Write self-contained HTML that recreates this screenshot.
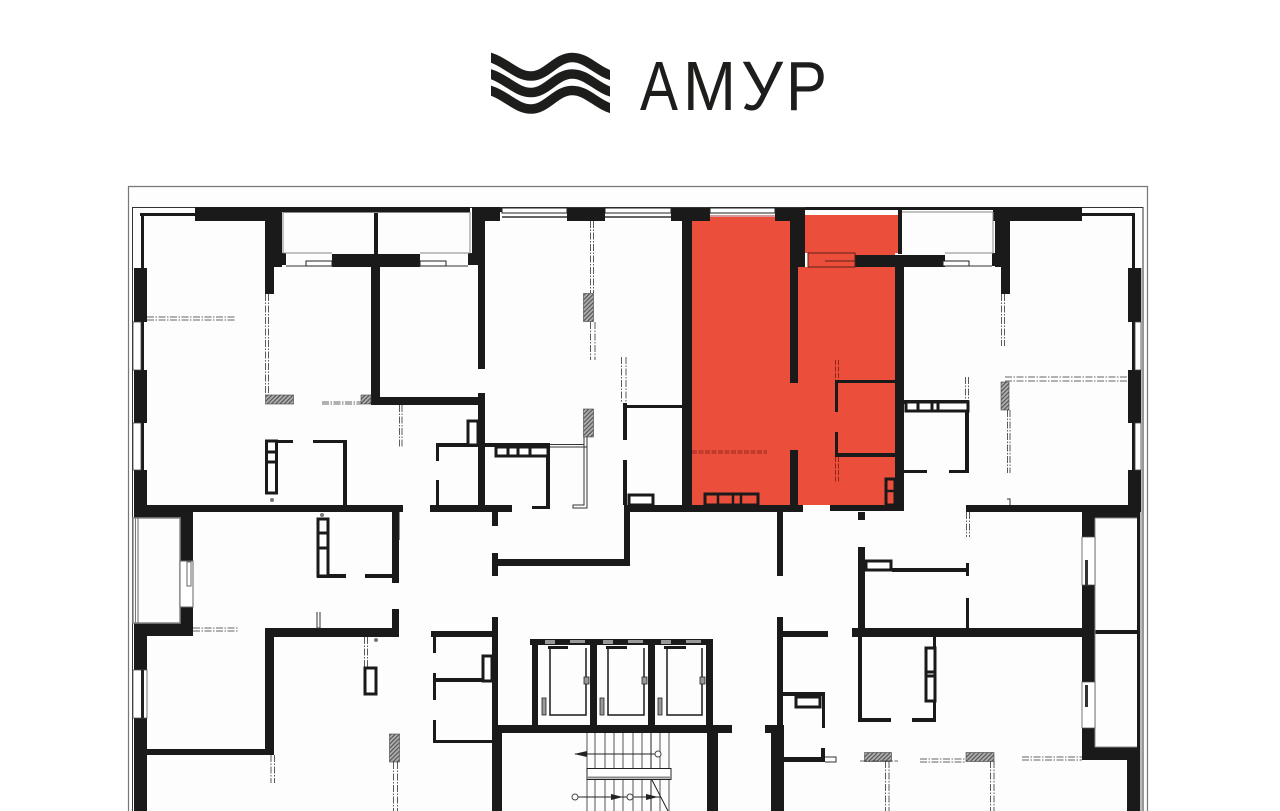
<!DOCTYPE html>
<html>
<head>
<meta charset="utf-8">
<style>
html,body{margin:0;padding:0;background:#fff;width:1280px;height:811px;overflow:hidden}
svg{display:block}
.d{fill:none;stroke:#333;stroke-width:.8;stroke-dasharray:7 1.5 1.5 1.5}
.t{fill:none;stroke:#222;stroke-width:1}
.g{fill:none;stroke:#888;stroke-width:1}
.s{fill:none;stroke:#333;stroke-width:1}
.l{font-family:"Liberation Sans",sans-serif;font-size:70px;fill:#1d1d1b}
</style>
</head>
<body>
<svg width="1280" height="811" viewBox="0 0 1280 811" xmlns="http://www.w3.org/2000/svg">
<defs>
<pattern id="h" width="3" height="3" patternUnits="userSpaceOnUse" patternTransform="rotate(-45)">
<rect width="3" height="3" fill="#b0b0b0"/><rect width="3" height="1.2" fill="#555"/>
</pattern>
<clipPath id="lc"><rect x="491" y="45" width="119" height="75"/></clipPath>
</defs>
<rect width="1280" height="811" fill="#fff"/>

<!-- logo -->
<g fill="none" stroke="#1d1d1b" stroke-width="9.500" clip-path="url(#lc)">
<path d="M485 56C505 60 515 76 531 76C547 76 556 57.500 572 57.500C588 57.500 596 72 616 77"/>
<path d="M485 72.500C505 76.500 515 92.500 531 92.500C547 92.500 556 74 572 74C588 74 596 88.500 616 93.500"/>
<path d="M485 89C505 93 515 109 531 109C547 109 556 90.500 572 90.500C588 90.500 596 105 616 110"/>
</g>
<text class="l" x="640" y="110" textLength="38" lengthAdjust="spacingAndGlyphs">А</text>
<text class="l" x="683" y="110" textLength="53" lengthAdjust="spacingAndGlyphs">М</text>
<text class="l" x="741" y="110" textLength="42" lengthAdjust="spacingAndGlyphs">У</text>
<text class="l" x="786" y="110" textLength="41" lengthAdjust="spacingAndGlyphs">Р</text>

<!-- frame -->
<path d="M128.500 811V186.500H1147.500V811" fill="#fdfdfd" stroke="#777" stroke-width="1.200"/>
<path d="M132.500 811V207.500H1143V811" fill="none" stroke="#333" stroke-width="1"/>
<path d="M135.500 811V268M1141 811V268" fill="none" stroke="#555" stroke-width=".8"/>

<!-- red apartment -->
<path d="M692 221H790V383H798V267H808V253H805V215H898V253H895V505H692Z" fill="#ec4e3c"/>
<path d="M790 383H798V267H895V505H692V383Z" fill="#ec4e3c"/>
<rect x="710" y="217" width="65" height="4" fill="#ec4e3c"/>

<!-- walls -->
<path fill="#1a1a1a" d="
M195 207H282V221H195ZM265 221H282V267H265ZM265 267H274V294H265ZM282 253H286V265H282Z
M134 268H147V322H134ZM134 370H147V423H134ZM134 470H147V512H134Z
M141 216H144V268H141ZM141 322H144V370H141ZM141 423H144V470H141ZM140 213H195V216H140Z
M282 207H470V212H282ZM374 207H378V254H374ZM332 254H420V267H332Z
M371 267H380V405H371ZM371 397H485V405H371Z
M472 207H500V221H472ZM472 221H485V265H472ZM478 265H485V369H478ZM478 393H485V512H478ZM468 253H472V265H468Z
M147 505H403V512H147ZM313 440H347V443H313ZM265 440H293V443H265ZM343 440H347V505H343Z
M436 443H478V447H436ZM436 443H439V461H436ZM436 480H439V505H436ZM430 505H512V512H430Z
M492 509H498V526H492ZM492 553H498V576H492ZM498 559H630V566H498ZM624 505H630V566H624Z
M492 617H498V811H492ZM431 631H492V637H431ZM433 637H436V653H433ZM433 673H436V700H433ZM435 678H482V682H435ZM433 720H436V743H433ZM435 740H492V743H435Z
M134 511H193V518H134ZM180 518H193V561H180ZM180 607H193V636H180ZM134 623H193V636H134ZM134 636H147V670H134ZM134 718H147V811H134Z
M147 749H273V755H147ZM265 628H274V755H265ZM265 628H399V637H265ZM392 609H399V637H392ZM392 512H399V583H392Z
M317 574H346V578H317ZM365 574H393V578H365Z
M500 208H502V212H500ZM567 208H605V221H567ZM671 208H710V221H671ZM775 208H805V221H775ZM790 221H805V267H790ZM790 267H798V383H790Z
M682 221H692V512H682ZM624 505H803V512H624ZM830 505H904V511H830ZM790 450H798V505H790Z
M777 512H783V576H777ZM777 617H783V725H777ZM858 512H865V520H858Z
M855 255H945V267H855ZM895 267H904V511H895ZM805 207H993V210H805ZM898 207H902V254H898Z
M835 380H838V412H835ZM835 380H895V383H835ZM835 432H838V457H835ZM835 453H895V457H835Z
M623 403H627V440H623ZM627 405H682V408H627ZM623 460H627V505H623ZM485 443H550V447H485ZM546 447H550V508H546ZM532 506H550V509H532ZM485 506H512V509H485Z
M993 207H1082V221H993ZM995 221H1010V267H995ZM1001 267H1010V294H1001ZM992 253H995V266H992Z
M1128 268H1141V322H1128ZM1128 370H1141V423H1128ZM1128 470H1141V512H1128ZM1132 216H1135V268H1132ZM1132 322H1135V370H1132ZM1132 423H1135V470H1132ZM1082 213H1135V216H1082Z
M904 400H968V404H904ZM965 400H969V473H965ZM949 470H969V473H949ZM904 470H927V473H904ZM966 505H1141V512H966ZM1082 505H1140V518H1082ZM1082 512H1095V537H1082ZM1082 585H1095V682H1082ZM1082 728H1095V760H1082ZM1082 747H1140V760H1082ZM1127 760H1140V811H1127ZM1095 630H1137V634H1095ZM1137 518H1140V747H1137Z
M858 547H865V628H858ZM892 568H968V572H892ZM966 563H969V576H966ZM966 598H969V628H966ZM852 628H1082V637H852ZM858 637H862V722H858ZM858 718H891V722H858ZM912 718H936V722H912ZM933 637H936V722H933Z
M783 631H828V637H783ZM783 692H825V696H783ZM822 692H825V728H822ZM765 725H784V733H765ZM771 733H784V811H771ZM783 757H825V762H783ZM821 748H825V762H821Z
M530 639H713V645H530ZM532 639H538V725H532ZM590 639H597V725H590ZM648 639H655V725H648ZM706 639H713V725H706ZM498 725H732V733H498ZM492 733H502V811H492ZM707 733H718V811H707Z
"/>

<!-- balcony grey lines -->
<path class="g" d="M283 212.500H470M283 253H332M420 253H470V212M283 212V253M902 212H993M945 253H993V212M1095 518H1137M1095 518V747H1137"/>
<path d="M133 518H180V623H133Z" fill="none" stroke="#888" stroke-width="1.500"/>
<path d="M138 518V623" stroke="#666" stroke-width="1" fill="none"/>
<path d="M180 561H193V607H180ZM187 562H191V586H187Z" fill="#fff" stroke="#666" stroke-width="1"/>
<path d="M1082 537H1095V585H1082ZM1082 682H1095V728H1082Z" fill="#fff" stroke="#555" stroke-width=".8"/>
<rect x="1085" y="560" width="3" height="25" fill="#333"/><rect x="1085" y="685" width="3" height="22" fill="#333"/>
<path d="M133 670H147V718H133Z" fill="#fff" stroke="#555" stroke-width=".8"/>
<rect x="141" y="670" width="3" height="48" fill="#222"/>
<path d="M133 322H141V370H133ZM133 423H141V470H133ZM1135 322H1141V370H1135ZM1135 423H1141V470H1135Z" fill="#fff" stroke="#444" stroke-width=".8"/>

<!-- windows -->
<g fill="#fff" stroke="#222" stroke-width="1">
<rect x="502" y="208" width="65" height="5"/><rect x="605" y="208" width="66" height="5"/><rect x="710" y="208" width="65" height="5"/>
<rect x="306" y="261" width="26" height="5"/><rect x="420" y="261" width="26" height="5"/><rect x="943" y="261" width="26" height="5"/>
</g>
<path d="M286 266H306M446 266H468M969 266H992" stroke="#333" stroke-width="1" fill="none"/>
<path d="M502 217H567M605 217H671" stroke="#333" stroke-width="1.500" fill="none"/>
<path d="M710 216H775" stroke="#a33" stroke-width="1" fill="none"/>
<path d="M808 253H855V267H808ZM825 261H855" fill="none" stroke="#5a2018" stroke-width="1"/>

<!-- closets -->
<g fill="#fff" stroke="#1a1a1a" stroke-width="3">
<rect x="266.500" y="441" width="10" height="52"/>
<rect x="318" y="519" width="10" height="57"/>
<rect x="468" y="421" width="10" height="24"/>
<rect x="496" y="447" width="52" height="9"/>
<rect x="629" y="495" width="24" height="10"/>
<rect x="906" y="402" width="62" height="9"/>
<rect x="866" y="561" width="25" height="9"/>
<rect x="926" y="648" width="9" height="53"/>
<rect x="365" y="668" width="11" height="26"/>
<rect x="483" y="656" width="9" height="25"/>
<rect x="796" y="697" width="24" height="10"/>
</g>
<path d="M266 452H277M266 462H277M318 533H328M318 548H328M508 447V456M518 447V456M530 447V456M918 402V411M932 402V411M938 402V411M926 672H935M926 676H935" stroke="#1a1a1a" stroke-width="3" fill="none"/>
<g fill="none" stroke="#1a1a1a" stroke-width="3">
<rect x="705" y="494" width="53" height="11"/><rect x="886" y="479" width="9" height="26"/>
</g>
<path d="M718 494V505M733 494V505M741 494V505M886 491H895" stroke="#1a1a1a" stroke-width="2.500"/>

<!-- hatches -->
<g fill="url(#h)" stroke="#444" stroke-width=".6">
<rect x="265.500" y="395" width="28" height="9"/><rect x="361" y="395" width="10" height="9"/>
<rect x="583.500" y="293.500" width="10" height="28"/><rect x="583.500" y="409" width="10" height="28"/>
<rect x="1001" y="382" width="8" height="28"/>
<rect x="389.500" y="734" width="10" height="28"/>
<rect x="864.500" y="752.500" width="27" height="9"/><rect x="966" y="752.500" width="28" height="9"/>
</g>

<!-- dash-dot partitions -->
<path class="d" d="M147 317H235M147 320H235M265.500 294V395M268.500 294V395M322 402H361M322 404H361M399.500 405V447M402 405V447
M590.500 221V293M593.500 221V293M590.500 322V360M595 322V360M621.500 357V403M626 357V403
M1001.500 294V346M1004.500 294V346M1005 377H1128M1005 381H1128M1007.500 410V473M1010 410V473M965.500 377V400M968.500 377V400
M193 628H238M193 631H238M364.500 637V667M367.500 637V667M271 755V783M274.500 755V783M393.500 762V811M397.500 762V811
M860 761H898M920 759H966M920 762H966M1022 757H1082M1022 760H1082M885.500 761V811M889 761V811M990.500 761V811M994 761V811M966.500 512V537M969.500 512V537"/>
<path d="M692 451H767M692 453H767M835.500 360V380M838.500 360V380M835.500 457V482M838.500 457V482" fill="none" stroke="#7a1f14" stroke-width=".8" stroke-dasharray="5 1.500"/>
<path class="s" d="M550 444.500H584V437M550 447H587M587 437V508H573V505H584V445M317 612V628M320 612V628H317M1007 499H1010V505M825 757H836V762H825"/>
<path class="t" d="M399 512V540"/>

<!-- lifts -->
<g fill="none" stroke="#1a1a1a" stroke-width="1.500">
<path d="M550 648V715H586V648M608 648V715H644V648M667 648V715H702V648"/>
</g>
<path fill="#1a1a1a" d="M548 646H568V649H548ZM606 646H627V649H606ZM664 646H686V649H664Z"/>
<g fill="#999" stroke="#222" stroke-width=".8">
<rect x="542" y="698" width="4" height="17"/><rect x="600" y="698" width="4" height="17"/><rect x="658" y="698" width="4" height="17"/>
<rect x="584" y="677" width="5" height="7"/><rect x="642" y="677" width="5" height="7"/><rect x="700" y="677" width="5" height="7"/>
</g>
<path fill="#999" d="M545 640H555V644H545ZM570 640H585V643H570ZM603 640H613V644H603ZM628 640H643V643H628ZM661 640H671V644H661ZM686 640H701V643H686Z"/>

<!-- stairs -->
<path fill="none" stroke="#555" stroke-width="1" d="M587 733V768M595 733V768M605 733V768M614 733V768M623 733V768M633 733V768M642 733V768M660 733V768M669 733V768M587 780V811M595 780V811M605 780V811M614 780V811M623 780V811M633 780V811M642 780V811M660 780V811M669 780V811"/>
<path fill="none" stroke="#222" stroke-width="1" d="M651 733V768M651 780V811M575 754H655M578 797H627M633 797H660M652 780L668 811"/>
<rect x="587" y="768.500" width="84" height="11" fill="#fff" stroke="#222" stroke-width="1"/>
<path d="M587 777.500H671" stroke="#888" stroke-width="2" fill="none"/>
<g fill="#fff" stroke="#444" stroke-width="1"><circle cx="658" cy="754" r="3"/><circle cx="575" cy="797" r="3"/><circle cx="630" cy="797" r="3"/></g>
<path fill="#222" d="M574 754L587 751V757ZM623 797L611 794V800ZM658 797L646 794V800Z"/>
<circle cx="272" cy="500" r="2" fill="#777"/><circle cx="322" cy="515" r="2" fill="#777"/><circle cx="376" cy="640" r="2" fill="#777"/>
</svg>
</body>
</html>
